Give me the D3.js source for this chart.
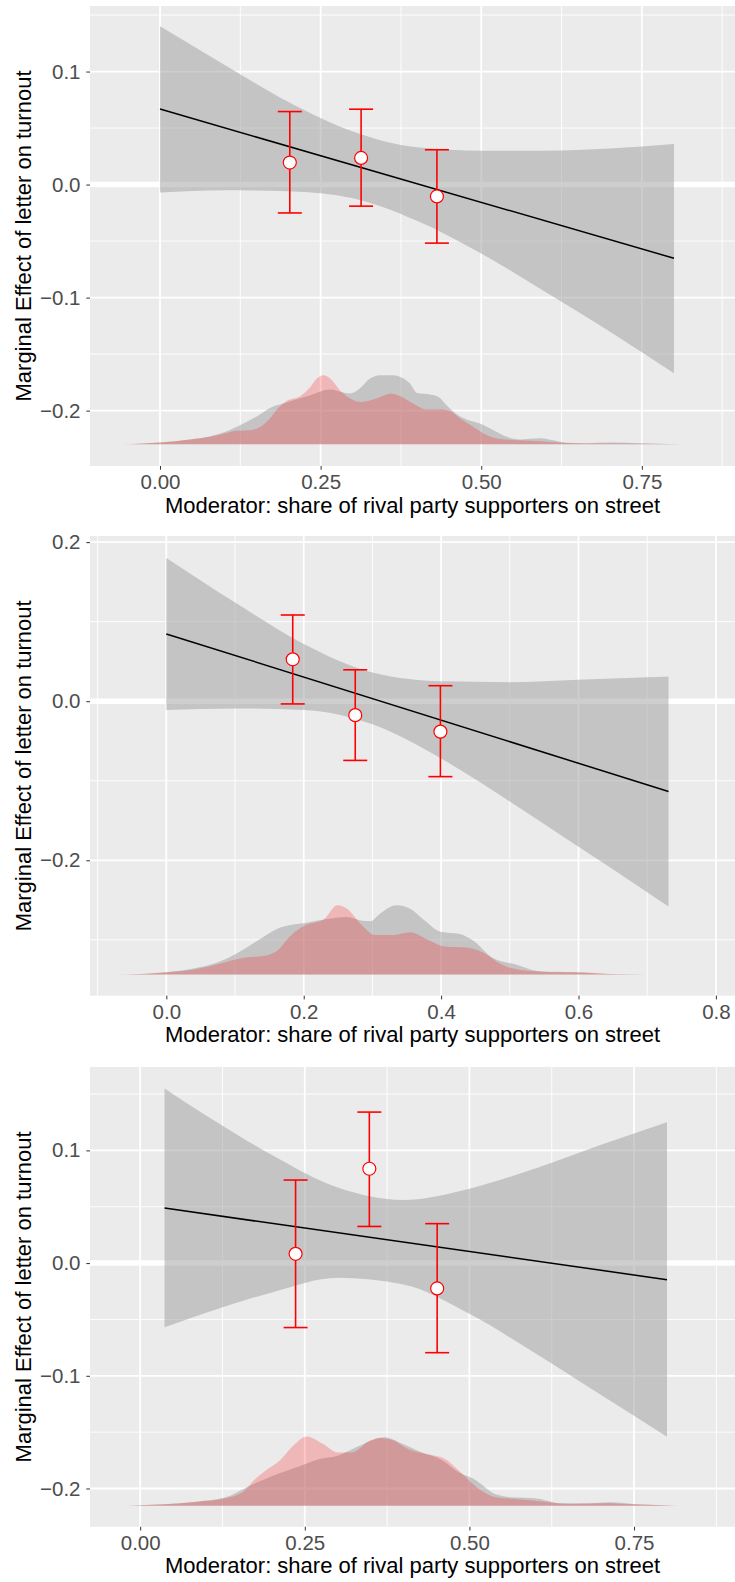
<!DOCTYPE html>
<html lang="en">
<head>
<meta charset="UTF-8" />
<title>Marginal effect of letter on turnout</title>
<script src="https://d3js.org/d3.v7.min.js"></script>
<style>
  body { margin: 0; background: #fff; }
  svg { display: block; font-family: "Liberation Sans", Arial, sans-serif; }
  .tick text { fill: #4d4d4d; font-size: 20.5px; }
  .tick line { stroke: #333; }
  .title { fill: #000; font-size: 22px; }
</style>
</head>
<body>
<svg width="735" height="1582"></svg>
<script>
// ---- panel 1 ----
const p1BinX = [0.202, 0.313, 0.431];
const p1BinY = [0.0195, 0.0236, -0.0105];
const p1BinLo = [-0.0251, -0.0191, -0.0518];
const p1BinHi = [0.0646, 0.0667, 0.0308];
const p1FitX = [0, 0.8];
const p1FitY = [0.0668, -0.0652];
const p1BandX = [0, 0.1, 0.2, 0.3, 0.4, 0.5, 0.6, 0.7, 0.8];
const p1BandHi = [0.140, 0.106, 0.073, 0.047, 0.033, 0.030, 0.030, 0.032, 0.036];
const p1BandLo = [-0.007, -0.005, -0.006, -0.012, -0.032, -0.061, -0.095, -0.130, -0.167];
const p1GreyX = [-0.057, 0, 0.047, 0.078, 0.104, 0.13, 0.156, 0.171, 0.192, 0.234, 0.265, 0.285, 0.296, 0.309, 0.327, 0.342, 0.363, 0.379, 0.389, 0.400, 0.420, 0.433, 0.446, 0.462, 0.477, 0.498, 0.519, 0.540, 0.560, 0.592, 0.612, 0.633, 0.664, 0.706, 0.747, 0.810];
const p1GreyD = [0, 0.0015, 0.0042, 0.0071, 0.0115, 0.0183, 0.0265, 0.0321, 0.036, 0.0434, 0.0484, 0.0458, 0.0449, 0.0484, 0.0581, 0.0611, 0.0611, 0.0581, 0.0537, 0.0454, 0.044, 0.0419, 0.0345, 0.0265, 0.0219, 0.0183, 0.0124, 0.0065, 0.0042, 0.0053, 0.0035, 0.0012, 0.0009, 0.0015, 0.0009, 0];
const p1RedX = [-0.047, 0, 0.047, 0.078, 0.104, 0.119, 0.140, 0.156, 0.171, 0.182, 0.197, 0.218, 0.234, 0.244, 0.254, 0.265, 0.280, 0.296, 0.311, 0.332, 0.353, 0.358, 0.374, 0.394, 0.415, 0.436, 0.451, 0.467, 0.488, 0.509, 0.529, 0.560, 0.592, 0.623, 0.654, 0.705, 0.809];
const p1RedD = [0, 0.0015, 0.0042, 0.0065, 0.01, 0.0118, 0.0124, 0.0153, 0.0227, 0.0307, 0.0383, 0.0425, 0.0507, 0.0581, 0.0611, 0.0581, 0.0478, 0.0404, 0.0374, 0.0396, 0.044, 0.0449, 0.0425, 0.036, 0.0307, 0.031, 0.0295, 0.0227, 0.0153, 0.008, 0.0047, 0.0035, 0.0027, 0.0015, 0.0006, 0.0006, 0];
const p1DensBase = -0.2297;
const p1XTicks = [0, 0.25, 0.5, 0.75];
const p1XLabels = ["0.00", "0.25", "0.50", "0.75"];
const p1XMinor = [0.125, 0.375, 0.625, 0.875];
const p1YTicks = [-0.2, -0.1, 0, 0.1];
const p1YLabels = ["\u22120.2", "\u22120.1", "0.0", "0.1"];
const p1YMinor = [-0.15, -0.05, 0.05, 0.15];

// ---- panel 2 ----
const p2BinX = [0.184, 0.275, 0.399];
const p2BinY = [0.0527, -0.0175, -0.0382];
const p2BinLo = [-0.0034, -0.0744, -0.0948];
const p2BinHi = [0.1084, 0.0395, 0.0195];
const p2FitX = [0, 0.731];
const p2FitY = [0.0846, -0.1135];
const p2BandX = [0, 0.1, 0.2, 0.3, 0.4, 0.5, 0.6, 0.7, 0.731];
const p2BandHi = [0.180, 0.124, 0.072, 0.036, 0.025, 0.024, 0.027, 0.030, 0.031];
const p2BandLo = [-0.011, -0.009, -0.011, -0.029, -0.072, -0.126, -0.183, -0.240, -0.258];
const p2GreyX = [-0.071, 0, 0.045, 0.085, 0.113, 0.14, 0.167, 0.2015, 0.236, 0.263, 0.283, 0.297, 0.311, 0.335, 0.355, 0.376, 0.399, 0.427, 0.447, 0.4745, 0.509, 0.543, 0.597, 0.645, 0.747];
const p2GreyD = [0, 0.003, 0.0085, 0.0191, 0.0319, 0.0468, 0.0595, 0.065, 0.0701, 0.0723, 0.068, 0.0671, 0.0766, 0.0871, 0.0828, 0.068, 0.0539, 0.051, 0.0425, 0.0212, 0.0127, 0.0043, 0.003, 0.0009, 0];
const p2RedX = [-0.058, 0, 0.045, 0.079, 0.113, 0.14, 0.161, 0.181, 0.2015, 0.229, 0.249, 0.263, 0.283, 0.304, 0.331, 0.355, 0.379, 0.406, 0.440, 0.461, 0.488, 0.522, 0.577, 0.604, 0.645, 0.754];
const p2RedD = [0, 0.003, 0.0072, 0.0141, 0.0212, 0.0234, 0.0298, 0.0489, 0.0616, 0.0693, 0.0871, 0.0828, 0.0637, 0.0498, 0.0498, 0.0532, 0.0446, 0.0353, 0.0339, 0.0277, 0.0127, 0.0052, 0.003, 0.003, 0.0009, 0];
const p2DensBase = -0.3437;
const p2XTicks = [0, 0.2, 0.4, 0.6, 0.8];
const p2XLabels = ["0.0", "0.2", "0.4", "0.6", "0.8"];
const p2XMinor = [-0.1, 0.1, 0.3, 0.5, 0.7];
const p2YTicks = [-0.2, 0, 0.2];
const p2YLabels = ["\u22120.2", "0.0", "0.2"];
const p2YMinor = [-0.3, -0.1, 0.1];

// ---- panel 3 ----
const p3BinX = [0.236, 0.348, 0.451];
const p3BinY = [0.0082, 0.0837, -0.0225];
const p3BinLo = [-0.0572, 0.0325, -0.0795];
const p3BinHi = [0.0737, 0.134, 0.035];
const p3FitX = [0.037, 0.8];
const p3FitY = [0.0488, -0.0147];
const p3BandX = [0.037, 0.1, 0.2, 0.3, 0.4, 0.5, 0.6, 0.7, 0.8];
const p3BandHi = [0.155, 0.131, 0.096, 0.067, 0.056, 0.066, 0.084, 0.105, 0.125];
const p3BandLo = [-0.057, -0.044, -0.026, -0.013, -0.019, -0.045, -0.080, -0.117, -0.154];
const p3GreyX = [-0.021, 0.036, 0.086, 0.129, 0.164, 0.2, 0.243, 0.271, 0.300, 0.328, 0.357, 0.371, 0.399, 0.428, 0.456, 0.485, 0.506, 0.542, 0.570, 0.599, 0.641, 0.684, 0.713, 0.755, 0.812];
const p3GreyD = [0, 0.0012, 0.0036, 0.0072, 0.0171, 0.0262, 0.0352, 0.0413, 0.0443, 0.0518, 0.0593, 0.0608, 0.0548, 0.0473, 0.0413, 0.0292, 0.024, 0.0097, 0.0072, 0.0067, 0.0021, 0.0021, 0.003, 0.0012, 0];
const p3RedX = [-0.0135, 0.036, 0.086, 0.129, 0.157, 0.172, 0.192, 0.212, 0.2325, 0.253, 0.278, 0.300, 0.321, 0.3496, 0.364, 0.385, 0.4066, 0.435, 0.4635, 0.485, 0.513, 0.542, 0.570, 0.613, 0.656, 0.7055, 0.748, 0.819];
const p3RedD = [0, 0.0012, 0.0036, 0.0067, 0.0127, 0.0222, 0.0319, 0.0402, 0.0535, 0.0615, 0.0548, 0.0473, 0.0473, 0.0579, 0.0602, 0.0579, 0.0503, 0.0458, 0.0413, 0.0307, 0.0156, 0.0072, 0.006, 0.0036, 0.0015, 0.0021, 0.0012, 0];
const p3DensBase = -0.2153;
const p3XTicks = [0, 0.25, 0.5, 0.75];
const p3XLabels = ["0.00", "0.25", "0.50", "0.75"];
const p3XMinor = [0.125, 0.375, 0.625, 0.875];
const p3YTicks = [-0.2, -0.1, 0, 0.1];
const p3YLabels = ["\u22120.2", "\u22120.1", "0.0", "0.1"];
const p3YMinor = [-0.15, -0.05, 0.05, 0.15];

const xTitle = "Moderator: share of rival party supporters on street";
const yTitle = "Marginal Effect of letter on turnout";

// layout of the three stacked plots (pixel boxes + axis limits)
const panels = [
  { top: 6, bottom: 466, xDom: [-0.109, 0.895], yDom: [-0.249, 0.158],
    binX: p1BinX, binY: p1BinY, binLo: p1BinLo, binHi: p1BinHi, fitX: p1FitX, fitY: p1FitY,
    bandX: p1BandX, bandHi: p1BandHi, bandLo: p1BandLo,
    greyX: p1GreyX, greyD: p1GreyD, redX: p1RedX, redD: p1RedD, base: p1DensBase,
    xTicks: p1XTicks, xLabels: p1XLabels, xMinor: p1XMinor, yTicks: p1YTicks, yLabels: p1YLabels, yMinor: p1YMinor },
  { top: 536, bottom: 995.7, xDom: [-0.1111, 0.8278], yDom: [-0.3702, 0.2077],
    binX: p2BinX, binY: p2BinY, binLo: p2BinLo, binHi: p2BinHi, fitX: p2FitX, fitY: p2FitY,
    bandX: p2BandX, bandHi: p2BandHi, bandLo: p2BandLo,
    greyX: p2GreyX, greyD: p2GreyD, redX: p2RedX, redD: p2RedD, base: p2DensBase,
    xTicks: p2XTicks, xLabels: p2XLabels, xMinor: p2XMinor, yTicks: p2YTicks, yLabels: p2YLabels, yMinor: p2YMinor },
  { top: 1067, bottom: 1526.8, xDom: [-0.0762, 0.9033], yDom: [-0.234, 0.174],
    binX: p3BinX, binY: p3BinY, binLo: p3BinLo, binHi: p3BinHi, fitX: p3FitX, fitY: p3FitY,
    bandX: p3BandX, bandHi: p3BandHi, bandLo: p3BandLo,
    greyX: p3GreyX, greyD: p3GreyD, redX: p3RedX, redD: p3RedD, base: p3DensBase,
    xTicks: p3XTicks, xLabels: p3XLabels, xMinor: p3XMinor, yTicks: p3YTicks, yLabels: p3YLabels, yMinor: p3YMinor }
];

const svg = d3.select("svg");
const left = 90, right = 735;

panels.forEach((p) => {
  const x = d3.scaleLinear().domain(p.xDom).range([left, right]);
  const y = d3.scaleLinear().domain(p.yDom).range([p.bottom, p.top]);
  const g = svg.append("g");

  g.append("rect")
    .attr("x", left).attr("y", p.top)
    .attr("width", right - left).attr("height", p.bottom - p.top)
    .attr("fill", "#ebebeb");

  // grid
  g.selectAll(".gyMinor").data(p.yMinor).join("line")
    .attr("x1", left).attr("x2", right)
    .attr("y1", (d) => y(d)).attr("y2", (d) => y(d))
    .attr("stroke", "#fff").attr("stroke-width", 0.9);
  g.selectAll(".gxMinor").data(p.xMinor).join("line")
    .attr("x1", (d) => x(d)).attr("x2", (d) => x(d))
    .attr("y1", p.top).attr("y2", p.bottom)
    .attr("stroke", "#fff").attr("stroke-width", 0.9);
  g.selectAll(".gyMajor").data(p.yTicks).join("line")
    .attr("x1", left).attr("x2", right)
    .attr("y1", (d) => y(d)).attr("y2", (d) => y(d))
    .attr("stroke", "#fff").attr("stroke-width", 1.8);
  g.selectAll(".gxMajor").data(p.xTicks).join("line")
    .attr("x1", (d) => x(d)).attr("x2", (d) => x(d))
    .attr("y1", p.top).attr("y2", p.bottom)
    .attr("stroke", "#fff").attr("stroke-width", 1.8);

  // zero reference line
  g.append("line")
    .attr("x1", left).attr("x2", right)
    .attr("y1", y(0)).attr("y2", y(0))
    .attr("stroke", "#fff").attr("stroke-width", 5.5);

  // densities of the moderator (grey first, red on top)
  const dens = (xs, ds) => d3.area()
    .x((d, i) => x(xs[i]))
    .y0(y(p.base))
    .y1((d, i) => y(p.base + ds[i]))
    .curve(d3.curveMonotoneX)(ds);
  g.append("path").attr("d", dens(p.greyX, p.greyD))
    .attr("fill", "#999999").attr("fill-opacity", 0.48);
  g.append("path").attr("d", dens(p.redX, p.redD))
    .attr("fill", "#ff0000").attr("fill-opacity", 0.22);

  // confidence band + fit line
  const band = d3.area()
    .x((d, i) => x(p.bandX[i]))
    .y0((d, i) => y(p.bandLo[i]))
    .y1((d) => y(d))
    .curve(d3.curveMonotoneX);
  g.append("path").attr("d", band(p.bandHi))
    .attr("fill", "#999999").attr("fill-opacity", 0.48);
  g.append("line")
    .attr("x1", x(p.fitX[0])).attr("y1", y(p.fitY[0]))
    .attr("x2", x(p.fitX[1])).attr("y2", y(p.fitY[1]))
    .attr("stroke", "#000").attr("stroke-width", 1.5);

  // binned estimates
  const bins = p.binX.map((v, i) => ({ x: v, y: p.binY[i], lo: p.binLo[i], hi: p.binHi[i] }));
  const eb = g.selectAll(".bin").data(bins).join("g")
    .attr("stroke", "#ff0000").attr("stroke-width", 1.6);
  eb.append("line")
    .attr("x1", (d) => x(d.x)).attr("x2", (d) => x(d.x))
    .attr("y1", (d) => y(d.lo)).attr("y2", (d) => y(d.hi));
  eb.append("line")
    .attr("x1", (d) => x(d.x) - 12).attr("x2", (d) => x(d.x) + 12)
    .attr("y1", (d) => y(d.lo)).attr("y2", (d) => y(d.lo));
  eb.append("line")
    .attr("x1", (d) => x(d.x) - 12).attr("x2", (d) => x(d.x) + 12)
    .attr("y1", (d) => y(d.hi)).attr("y2", (d) => y(d.hi));
  eb.append("circle")
    .attr("cx", (d) => x(d.x)).attr("cy", (d) => y(d.y))
    .attr("r", 6.5).attr("fill", "#fff").attr("stroke-width", 1.2);

  // axes
  const ax = g.append("g")
    .attr("transform", `translate(0,${p.bottom})`)
    .call(d3.axisBottom(x).tickValues(p.xTicks)
      .tickFormat((d, i) => p.xLabels[i]).tickSize(3.7).tickPadding(4.6));
  ax.select(".domain").remove();
  const ay = g.append("g")
    .attr("transform", `translate(${left},0)`)
    .call(d3.axisLeft(y).tickValues(p.yTicks)
      .tickFormat((d, i) => p.yLabels[i]).tickSize(3.7).tickPadding(5.8));
  ay.select(".domain").remove();
  g.selectAll(".tick text").attr("font-family", null).attr("font-size", null);

  g.append("text").attr("class", "title")
    .attr("x", (left + right) / 2).attr("y", p.bottom + 46.5)
    .attr("text-anchor", "middle")
    .text(xTitle);
  g.append("text").attr("class", "title")
    .attr("transform", `translate(31,${(p.top + p.bottom) / 2}) rotate(-90)`)
    .attr("text-anchor", "middle")
    .text(yTitle);
});
</script>
</body>
</html>
